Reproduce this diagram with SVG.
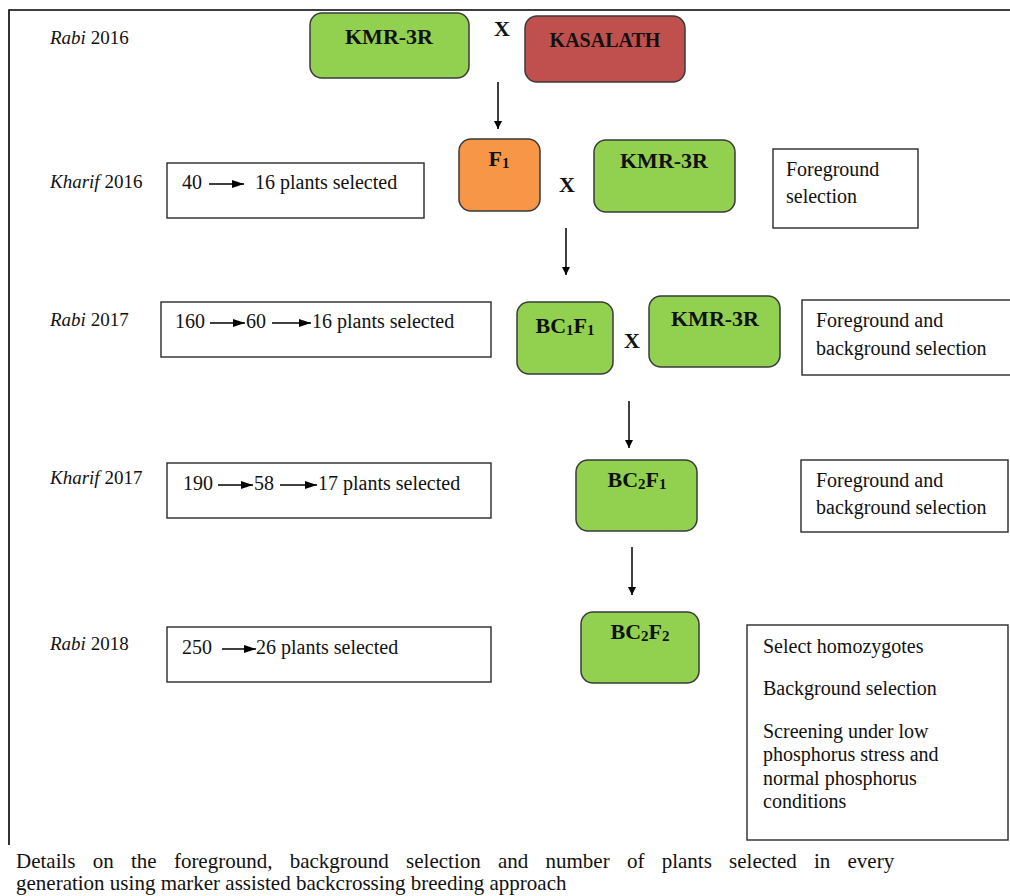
<svg xmlns="http://www.w3.org/2000/svg" width="1010" height="896" viewBox="0 0 1010 896">
<defs>
<style>
.bg{fill:#ffffff}
.frame{fill:none;stroke:#000;stroke-width:1.6}
.node{stroke:#3a3a3a;stroke-width:1.5}
.green{fill:#92d050}
.red{fill:#c0504d}
.orange{fill:#f79646}
.box{fill:#fff;stroke:#2a2a2a;stroke-width:1.4}
.nl{font-family:"Liberation Serif","Times New Roman",serif;font-weight:bold;fill:#111;text-anchor:middle}
.t{font-family:"Liberation Serif","Times New Roman",serif;font-size:20px;fill:#111}
.season{font-family:"Liberation Serif","Times New Roman",serif;font-size:19px;fill:#111}
.x{font-family:"Liberation Serif","Times New Roman",serif;font-weight:bold;font-size:22px;fill:#111;text-anchor:middle}
.cap{font-family:"Liberation Serif","Times New Roman",serif;font-size:21px;fill:#111}
.conn{stroke:#000;stroke-width:1.5;fill:none}
.inl{stroke:#000;stroke-width:1.3;fill:none}
</style>
<marker id="ah" viewBox="0 0 10 10" refX="10" refY="5" markerWidth="8" markerHeight="8" markerUnits="userSpaceOnUse" orient="auto">
<path d="M0,0 L10,5 L0,10 z" fill="#000"/>
</marker>
<marker id="ahs" viewBox="0 0 10 10" refX="10" refY="5" markerWidth="12" markerHeight="8" markerUnits="userSpaceOnUse" orient="auto" preserveAspectRatio="none">
<path d="M0,0 L10,5 L0,10 z" fill="#000"/>
</marker>
</defs>
<rect class="bg" x="0" y="0" width="1010" height="896"/>
<path class="frame" d="M9,845 L9,10 L1010,10"/>

<g id="kmr3r-1"><rect class="node green" x="310" y="13" width="159" height="65" rx="12"/><text class="nl" x="389" y="44" font-size="22">KMR-3R</text></g>
<g id="cross-1"><text class="x" x="502" y="36">X</text></g>
<g id="kasalath"><rect class="node red" x="525" y="16" width="160" height="66" rx="12"/><text class="nl" x="605" y="47" font-size="20">KASALATH</text></g>

<g id="f1"><rect class="node orange" x="459" y="139" width="81" height="72" rx="12"/><text class="nl" x="499" y="166" font-size="22">F<tspan font-size="15" dy="2">1</tspan></text></g>
<g id="cross-2"><text class="x" x="567" y="192">X</text></g>
<g id="kmr3r-2"><rect class="node green" x="594" y="140" width="141" height="72" rx="12"/><text class="nl" x="664" y="168" font-size="22">KMR-3R</text></g>

<g id="bc1f1"><rect class="node green" x="517" y="302" width="96" height="72" rx="12"/><text class="nl" x="565" y="333" font-size="22">BC<tspan font-size="15" dy="2">1</tspan><tspan dy="-2">F</tspan><tspan font-size="15" dy="2">1</tspan></text></g>
<g id="cross-3"><text class="x" x="632" y="348">X</text></g>
<g id="kmr3r-3"><rect class="node green" x="649" y="296" width="131" height="71" rx="12"/><text class="nl" x="715" y="326" font-size="22">KMR-3R</text></g>

<g id="bc2f1"><rect class="node green" x="576" y="460" width="121" height="71" rx="12"/><text class="nl" x="637" y="487" font-size="22">BC<tspan font-size="15" dy="2">2</tspan><tspan dy="-2">F</tspan><tspan font-size="15" dy="2">1</tspan></text></g>

<g id="bc2f2"><rect class="node green" x="581" y="612" width="118" height="71" rx="12"/><text class="nl" x="640" y="639" font-size="22">BC<tspan font-size="15" dy="2">2</tspan><tspan dy="-2">F</tspan><tspan font-size="15" dy="2">2</tspan></text></g>

<g id="connectors">
<line class="conn" x1="498" y1="82" x2="498" y2="129" marker-end="url(#ah)"/>
<line class="conn" x1="566" y1="228" x2="566" y2="275" marker-end="url(#ah)"/>
<line class="conn" x1="629" y1="401" x2="629" y2="448" marker-end="url(#ah)"/>
<line class="conn" x1="632" y1="547" x2="632" y2="595" marker-end="url(#ah)"/>
</g>

<g id="season-rabi2016"><text class="season" x="50" y="44"><tspan font-style="italic">Rabi</tspan> 2016</text></g>
<g id="season-kharif2016"><text class="season" x="50" y="188"><tspan font-style="italic">Kharif</tspan> 2016</text></g>
<g id="season-rabi2017"><text class="season" x="50" y="326"><tspan font-style="italic">Rabi</tspan> 2017</text></g>
<g id="season-kharif2017"><text class="season" x="50" y="484"><tspan font-style="italic">Kharif</tspan> 2017</text></g>
<g id="season-rabi2018"><text class="season" x="50" y="650"><tspan font-style="italic">Rabi</tspan> 2018</text></g>

<g id="count-2016"><rect class="box" x="167" y="163" width="257" height="55"/>
<text class="t" x="182" y="189">40</text><line class="inl" x1="209" y1="184" x2="244" y2="184" marker-end="url(#ahs)"/><text class="t" x="255" y="189">16 plants selected</text></g>

<g id="count-2017r"><rect class="box" x="161" y="302" width="330" height="55"/>
<text class="t" x="175" y="328">160</text><line class="inl" x1="210" y1="323" x2="245" y2="323" marker-end="url(#ahs)"/><text class="t" x="246" y="328">60</text><line class="inl" x1="272" y1="323" x2="311" y2="323" marker-end="url(#ahs)"/><text class="t" x="312" y="328">16 plants selected</text></g>

<g id="count-2017k"><rect class="box" x="167" y="463" width="324" height="55"/>
<text class="t" x="183" y="490">190</text><line class="inl" x1="218" y1="485" x2="253" y2="485" marker-end="url(#ahs)"/><text class="t" x="254" y="490">58</text><line class="inl" x1="280" y1="485" x2="317" y2="485" marker-end="url(#ahs)"/><text class="t" x="318" y="490">17 plants selected</text></g>

<g id="count-2018"><rect class="box" x="167" y="627" width="324" height="55"/>
<text class="t" x="182" y="654">250</text><line class="inl" x1="222" y1="649" x2="256" y2="649" marker-end="url(#ahs)"/><text class="t" x="256" y="654">26 plants selected</text></g>

<g id="note-foreground"><rect class="box" x="773" y="149" width="145" height="79"/>
<text class="t" x="786" y="176">Foreground</text><text class="t" x="786" y="203">selection</text></g>

<g id="note-fb-1"><rect class="box" x="802" y="300" width="212" height="75"/>
<text class="t" x="816" y="327">Foreground and</text><text class="t" x="816" y="355">background selection</text></g>

<g id="note-fb-2"><rect class="box" x="801" y="460" width="207" height="72"/>
<text class="t" x="816" y="487">Foreground and</text><text class="t" x="816" y="514">background selection</text></g>

<g id="note-final"><rect class="box" x="747" y="625" width="261" height="215"/>
<text class="t" x="763" y="653">Select homozygotes</text>
<text class="t" x="763" y="695">Background selection</text>
<text class="t" x="763" y="738">Screening under low</text>
<text class="t" x="763" y="761">phosphorus stress and</text>
<text class="t" x="763" y="785">normal phosphorus</text>
<text class="t" x="763" y="808">conditions</text></g>

<g id="caption">
<text class="cap" x="16" y="868" word-spacing="12">Details on the foreground, background selection and number of plants selected in every</text>
<text class="cap" x="16" y="890">generation using marker assisted backcrossing breeding approach</text>
</g>
</svg>
